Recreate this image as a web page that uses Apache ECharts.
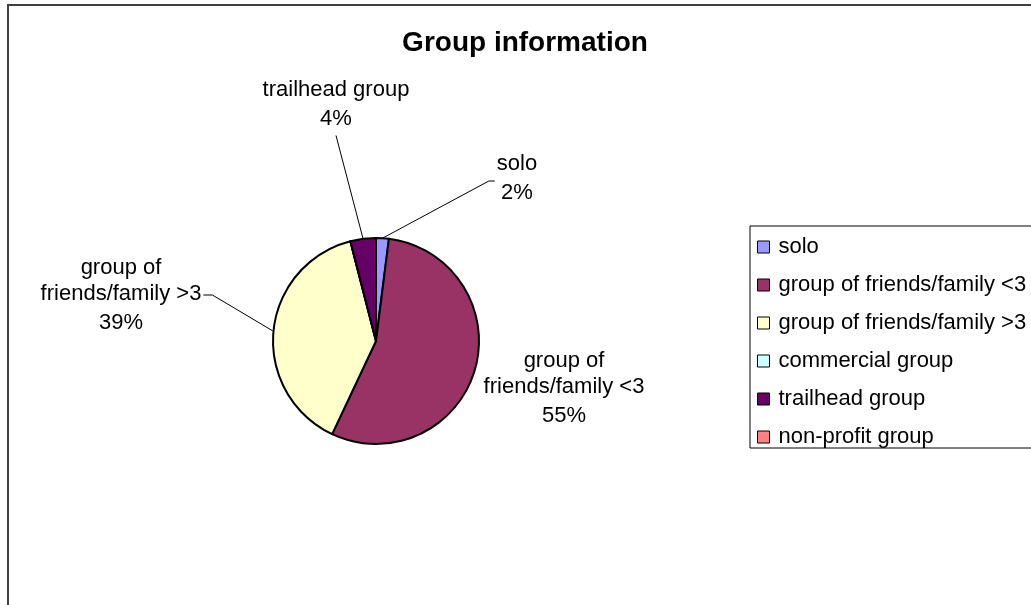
<!DOCTYPE html>
<html>
<head>
<meta charset="utf-8">
<title>Group information</title>
<script src="https://cdn.jsdelivr.net/npm/echarts@6/dist/echarts.min.js"></script>
<style>
  html, body { margin: 0; padding: 0; background: #ffffff; }
  #chart { width: 1031px; height: 605px; }
</style>
</head>
<body>
<div id="chart"></div>
<script>
// Group composition of respondents (percent of all groups)
const categories = [
  'solo',
  'group of friends/family <3',
  'group of friends/family >3',
  'commercial group',
  'trailhead group',
  'non-profit group'
];
const shares = [2, 55, 39, 0, 4, 0];
const sliceColors = ['#9999FF', '#993366', '#FFFFCC', '#CCFFFF', '#660066', '#FF8080'];

const FONT = '"Liberation Sans", Arial, sans-serif';

// Where each data label sits and which side its leader line joins
const labelSpots = {
  'solo': { x: 517, y: 180, side: 'left' },
  'group of friends/family <3': { x: 564, y: 390, side: 'none' },
  'group of friends/family >3': { x: 121, y: 297, side: 'right' },
  'trailhead group': { x: 336, y: 106, side: 'bottom' }
};

const pieData = categories.map((name, i) => {
  const spot = labelSpots[name];
  const item = { name: name, value: shares[i], itemStyle: { color: sliceColors[i] } };
  if (!spot) {
    item.label = { show: false };
    item.labelLine = { show: false };
  } else if (spot.side === 'none') {
    item.labelLine = { show: false };
  }
  return item;
});

function labelText(p) {
  const lines = p.name.replace(/^group of /, 'group of\n').split('\n');
  return lines.map(s => '{n|' + s + '}').join('\n') + '\n{p|' + Math.round(p.percent) + '%}';
}

function placeLabel(params) {
  const spot = labelSpots[categories[params.dataIndex]];
  if (!spot) return {};
  const w = params.labelRect.width;
  const h = params.labelRect.height;
  const out = { x: spot.x, y: spot.y, align: 'center', verticalAlign: 'middle' };
  const a = params.labelLinePoints && params.labelLinePoints[0];
  if (a) {
    if (spot.side === 'left') {
      const end = [spot.x - w / 2 - 2, spot.y + 1];
      out.labelLinePoints = [a, [end[0] - 6, end[1]], end];
    } else if (spot.side === 'right') {
      const end = [spot.x + w / 2 + 2, spot.y - 2];
      out.labelLinePoints = [a, [end[0] + 9, end[1]], end];
    } else if (spot.side === 'bottom') {
      const end = [spot.x, spot.y + h / 2 + 4];
      out.labelLinePoints = [a, end, end];
    }
  }
  return out;
}

const chart = echarts.init(document.getElementById('chart'), null, { renderer: 'canvas' });

chart.setOption({
  animation: false,
  backgroundColor: '#ffffff',
  title: {
    text: 'Group information',
    left: 520,
    top: 24,
    textAlign: 'center',
    textStyle: { fontFamily: FONT, fontSize: 28, fontWeight: 'bold', color: '#000000' }
  },
  graphic: [{
    type: 'rect',
    z: -10,
    silent: true,
    shape: { x: 8, y: 5, width: 1200, height: 800 },
    style: { fill: 'none', stroke: '#404040', lineWidth: 2 }
  }],
  legend: {
    orient: 'vertical',
    left: 750,
    top: 226,
    padding: [10, 14, 0, 7],
    itemGap: 16,
    itemWidth: 12,
    itemHeight: 12,
    icon: 'rect',
    borderColor: '#000000',
    borderWidth: 1,
    backgroundColor: '#ffffff',
    selectedMode: false,
    itemStyle: { borderColor: '#000000', borderWidth: 1 },
    textStyle: {
      fontFamily: FONT, fontSize: 22, lineHeight: 22, color: '#000000',
      padding: [0, 0, 0, 4]
    },
    data: categories
  },
  series: [{
    type: 'pie',
    center: [376, 341],
    radius: 103,
    startAngle: 90,
    clockwise: true,
    avoidLabelOverlap: false,
    minShowLabelAngle: 1,
    itemStyle: { borderColor: '#000000', borderWidth: 2 },
    emphasis: { disabled: true },
    label: {
      show: true,
      position: 'outside',
      color: '#000000',
      fontFamily: FONT,
      align: 'center',
      formatter: labelText,
      rich: {
        n: { fontFamily: FONT, fontSize: 22, lineHeight: 26, color: '#000000', align: 'center' },
        p: { fontFamily: FONT, fontSize: 22, lineHeight: 32, color: '#000000', align: 'center' }
      }
    },
    labelLine: {
      show: true,
      smooth: false,
      length: 10,
      length2: 10,
      lineStyle: { color: '#000000', width: 1 }
    },
    labelLayout: placeLabel,
    data: pieData
  }]
});
</script>
</body>
</html>
